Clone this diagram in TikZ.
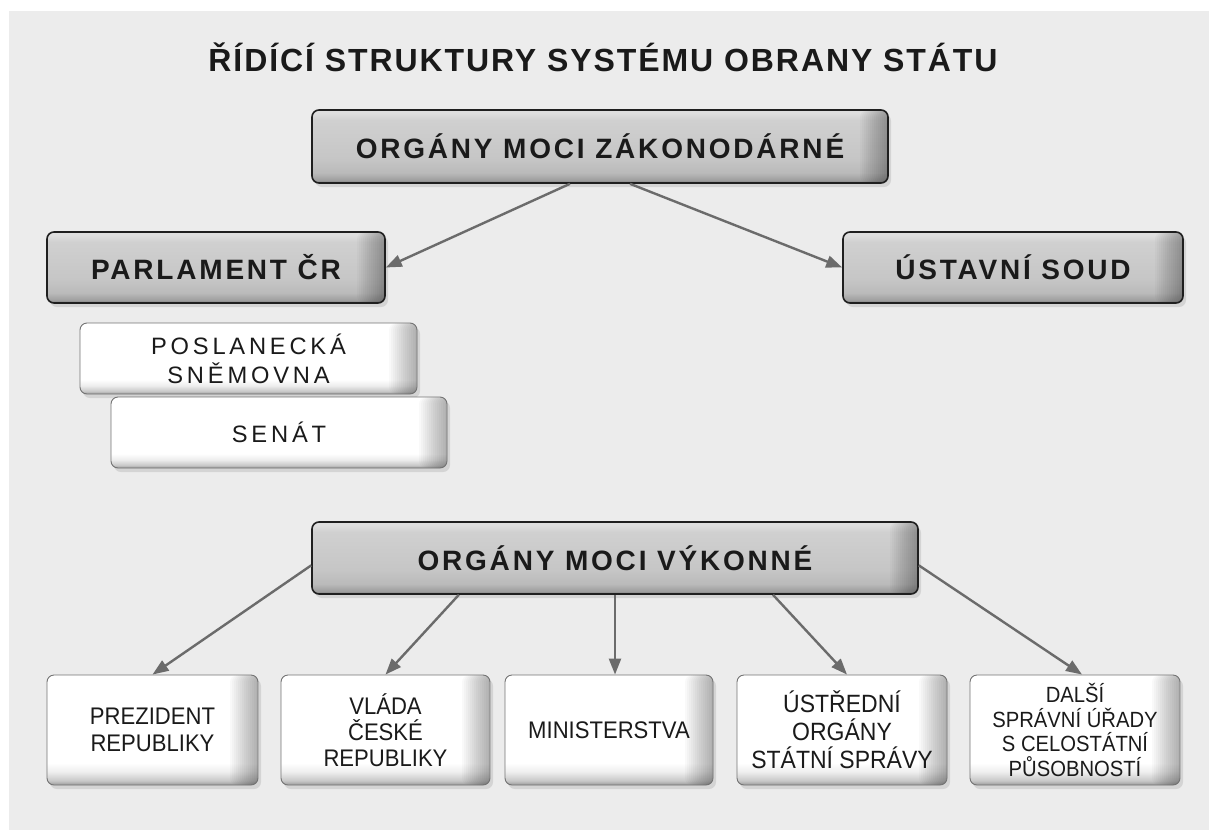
\documentclass[tikz,border=0pt]{standalone}
\usepackage{fontspec}
\setmainfont{Liberation Sans}
\newfontfamily\titlefont[LetterSpace=6]{Liberation Sans}
\newfontfamily\headfont[LetterSpace=10]{Liberation Sans}
\newfontfamily\spacedfont[LetterSpace=16]{Liberation Sans}
\newfontfamily\narrowfont[FakeStretch=0.92]{Liberation Sans}
\usetikzlibrary{arrows.meta,calc,shadows}
\definecolor{bgc}{HTML}{ECECEC}
\definecolor{txt}{HTML}{1A1A1A}
\definecolor{arrc}{HTML}{6B6B6B}
\definecolor{ga}{HTML}{7A7A7A}
\definecolor{gb}{HTML}{9E9E9E}
\definecolor{gc}{HTML}{BABABA}
\definecolor{gd}{HTML}{C6C6C6}
\definecolor{ge}{HTML}{D0D0D0}
\definecolor{gf}{HTML}{DEDEDE}
\definecolor{wa}{HTML}{9A9A9A}
\definecolor{wb}{HTML}{C8C8C8}
\definecolor{wc}{HTML}{EEEEEE}
\pgfdeclareverticalshading{grayshade}{100bp}{color(0bp)=(ga); color(25bp)=(ga); color(27bp)=(gb); color(32bp)=(gc); color(42bp)=(gd); color(68bp)=(ge); color(73bp)=(gf); color(75bp)=(gf); color(100bp)=(gf)}
\pgfdeclareverticalshading{whiteshade}{100bp}{color(0bp)=(wa); color(25bp)=(wa); color(27bp)=(wb); color(31bp)=(wc); color(35bp)=(white); color(100bp)=(white)}
\tikzset{
  boxbase/.style={rounded corners=7pt, inner sep=0pt, align=center,
    drop shadow={opacity=0.22, shadow xshift=3pt, shadow yshift=-4pt},
    path picture={\foreach \i in {1,...,14}{\fill[black, fill opacity=0.022]
      ([xshift=-2*\i pt]path picture bounding box.north east) rectangle (path picture bounding box.south east);}}},
  graybox/.style={boxbase, shading=grayshade, draw=black!88, line width=1.6pt,
    font=\headfont\bfseries\fontsize{28}{32}\selectfont, text=txt},
  whitebox/.style={boxbase, shading=whiteshade, draw=black!55, line width=0.9pt,
    font=\narrowfont\fontsize{24}{27}\selectfont, text=txt},
  topwhite/.style={whitebox, font=\spacedfont\fontsize{23.7}{29}\selectfont},
  arr/.style={draw=arrc, line width=2.4pt, -{Triangle[length=16pt,width=12pt]}}
}
\begin{document}
\begin{tikzpicture}[x=1pt,y=-1pt]
\useasboundingbox (0,0) rectangle (1209,830);
\fill[white] (0,0) rectangle (1209,830);
\fill[bgc] (9,11) rectangle (1209,830);

\node[font=\titlefont\bfseries\fontsize{32}{36}\selectfont, text=txt] (title) at (603,57) {ŘÍDÍCÍ STRUKTURY SYSTÉMU OBRANY STÁTU};

\node[graybox, minimum width=576, minimum height=73] (zak) at (600,146.5) {ORGÁNY MOCI ZÁKONODÁRNÉ};
\node[graybox, minimum width=338, minimum height=71] (parl) at (216,267.5) {PARLAMENT ČR};
\node[graybox, minimum width=340, minimum height=71] (ust) at (1013,267.5) {ÚSTAVNÍ SOUD};

\node[topwhite, minimum width=337, minimum height=71] (posl) at (248.5,358.5) {POSLANECKÁ\\SNĚMOVNA};
\node[topwhite, minimum width=336, minimum height=71] (senat) at (279,432.5) {SENÁT};

\node[graybox, minimum width=606, minimum height=72] (vyk) at (615,558) {ORGÁNY MOCI VÝKONNÉ};

\node[whitebox, minimum width=211, minimum height=110] (prez) at (152.5,730) {PREZIDENT\\REPUBLIKY};
\node[whitebox, minimum width=209, minimum height=110, font=\narrowfont\fontsize{24}{26}\selectfont] (vlada) at (385.5,730) {VLÁDA\\ČESKÉ\\REPUBLIKY};
\node[whitebox, minimum width=208, minimum height=110] (min) at (609,730) {MINISTERSTVA};
\node[whitebox, minimum width=210, minimum height=110, font=\narrowfont\fontsize{25}{28}\selectfont] (ustr) at (842,730) {ÚSTŘEDNÍ\\ORGÁNY\\STÁTNÍ SPRÁVY};
\node[whitebox, minimum width=210, minimum height=110, font=\narrowfont\fontsize{22}{24.5}\selectfont] (dalsi) at (1075,730) {DALŠÍ\\SPRÁVNÍ ÚŘADY\\S CELOSTÁTNÍ\\PŮSOBNOSTÍ};

\draw[arr] ($(zak.south west)!0.448!(zak.south east)$) -- (parl.east);
\draw[arr] ($(zak.south west)!0.552!(zak.south east)$) -- (ust.west);
\draw[arr] ($(vyk.north west)!0.6!(vyk.south west)$) -- (prez.north);
\draw[arr] ($(vyk.south west)!0.243!(vyk.south east)$) -- (vlada.north);
\draw[arr] (vyk.south) -- (vyk.south |- min.north);
\draw[arr] ($(vyk.south west)!0.76!(vyk.south east)$) -- ($(ustr.north)+(5,0)$);
\draw[arr] ($(vyk.north east)!0.6!(vyk.south east)$) -- ($(dalsi.north)+(7,0)$);
\end{tikzpicture}
\end{document}
